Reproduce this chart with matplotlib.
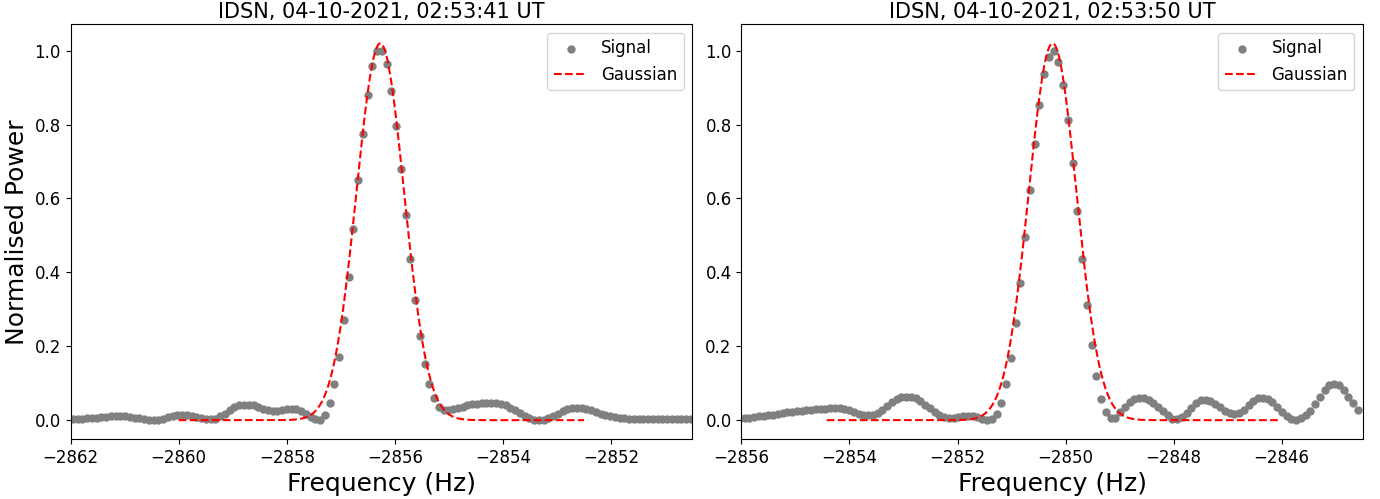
import numpy as np
import matplotlib.pyplot as plt
from matplotlib.ticker import MultipleLocator

# Plot config
plt.rcParams["font.size"] = 12
plt.rcParams["xtick.labelsize"] = 12
plt.rcParams["ytick.labelsize"] = 12

# Spectrum bins (Hz): first bin and bin width
bin_width = 0.088
f0_left = -2861.96
f0_right = -2856.03

# Normalised power per bin
power_left = [
    0.004, 0.004, 0.004, 0.005, 0.005, 0.006, 0.008, 0.009, 0.010, 0.011,
    0.011, 0.010, 0.009, 0.007, 0.005, 0.003, 0.001, 0.000, 0.001, 0.004,
    0.008, 0.012, 0.014, 0.015, 0.014, 0.012, 0.009, 0.006, 0.003, 0.002,
    0.004, 0.010, 0.018, 0.027, 0.035, 0.040, 0.042, 0.042, 0.040, 0.036,
    0.031, 0.027, 0.025, 0.025, 0.027, 0.029, 0.030, 0.029, 0.024, 0.016,
    0.008, 0.002, 0.001, 0.014, 0.046, 0.097, 0.171, 0.270, 0.388, 0.518,
    0.651, 0.775, 0.881, 0.958, 0.998, 1.000, 0.963, 0.892, 0.795, 0.679,
    0.556, 0.435, 0.324, 0.229, 0.153, 0.098, 0.061, 0.037, 0.027, 0.027,
    0.030, 0.033, 0.037, 0.040, 0.043, 0.045, 0.046, 0.047, 0.047, 0.046,
    0.044, 0.040, 0.034, 0.027, 0.019, 0.011, 0.005, 0.001, 0.000, 0.001,
    0.005, 0.011, 0.018, 0.025, 0.030, 0.033, 0.034, 0.033, 0.031, 0.027,
    0.022, 0.017, 0.013, 0.010, 0.008, 0.006, 0.005, 0.004, 0.004, 0.003,
    0.003, 0.003, 0.003, 0.003, 0.002, 0.002, 0.002, 0.002, 0.002, 0.002,
    0.002,
]

power_right = [
    0.005, 0.006, 0.007, 0.008, 0.010, 0.011, 0.013, 0.015, 0.017, 0.019,
    0.021, 0.023, 0.025, 0.026, 0.027, 0.028, 0.029, 0.030, 0.031, 0.032,
    0.033, 0.032, 0.030, 0.027, 0.022, 0.017, 0.014, 0.013, 0.015, 0.020,
    0.028, 0.038, 0.048, 0.056, 0.062, 0.064, 0.064, 0.059, 0.052, 0.042,
    0.032, 0.023, 0.014, 0.008, 0.005, 0.006, 0.008, 0.010, 0.011, 0.010,
    0.008, 0.004, 0.001, 0.003, 0.017, 0.047, 0.097, 0.169, 0.262, 0.372,
    0.496, 0.624, 0.747, 0.854, 0.936, 0.984, 1.000, 0.969, 0.906, 0.812,
    0.696, 0.566, 0.435, 0.311, 0.204, 0.119, 0.057, 0.021, 0.007, 0.007,
    0.021, 0.036, 0.048, 0.057, 0.061, 0.060, 0.055, 0.046, 0.036, 0.025,
    0.013, 0.004, 0.002, 0.008, 0.020, 0.034, 0.046, 0.054, 0.055, 0.051,
    0.044, 0.035, 0.026, 0.019, 0.016, 0.019, 0.028, 0.040, 0.052, 0.059,
    0.061, 0.058, 0.049, 0.036, 0.022, 0.011, 0.004, 0.001, 0.005, 0.013,
    0.025, 0.043, 0.064, 0.081, 0.094, 0.099, 0.095, 0.082, 0.064, 0.046,
    0.028,
]

# Gaussian fits: amplitude, centre (Hz), sigma (Hz), plotted range (Hz)
fit_left = (1.02, -2856.27, 0.44, -2860.0, -2852.5)
fit_right = (1.02, -2850.24, 0.44, -2854.42, -2846.06)

titles = ["IDSN, 04-10-2021, 02:53:41 UT", "IDSN, 04-10-2021, 02:53:50 UT"]
xlims = [(-2862.0, -2850.5), (-2856.0, -2844.5)]

# Plot
fig, axes = plt.subplots(1, 2, figsize=(13.8, 4.99), dpi=100)

panels = [(f0_left, power_left, fit_left), (f0_right, power_right, fit_right)]
for ax, (f0, power, fit), title, xlim in zip(axes, panels, titles, xlims):
    freq = f0 + bin_width * np.arange(len(power))
    amp, mu, sig, g_lo, g_hi = fit
    fg = np.linspace(g_lo, g_hi, 400)
    gauss = amp * np.exp(-(fg - mu) ** 2 / (2 * sig ** 2))

    ax.scatter(freq, power, color='grey', s=25, label='Signal')
    ax.plot(fg, gauss, 'r--', lw=1.5, label='Gaussian')

    ax.set_xlim(xlim)
    ax.set_ylim(-0.051, 1.071)
    ax.xaxis.set_major_locator(MultipleLocator(2))
    ax.set_title(title, fontsize=15, pad=4.5)
    ax.set_xlabel("Frequency (Hz)", fontsize=18)
    ax.legend(loc='upper right', fontsize=12)

axes[0].set_ylabel("Normalised Power", fontsize=18)

fig.subplots_adjust(left=0.0512, right=0.9875, bottom=0.1202, top=0.951, wspace=0.0794)
fig.savefig("out.png", dpi=100)
